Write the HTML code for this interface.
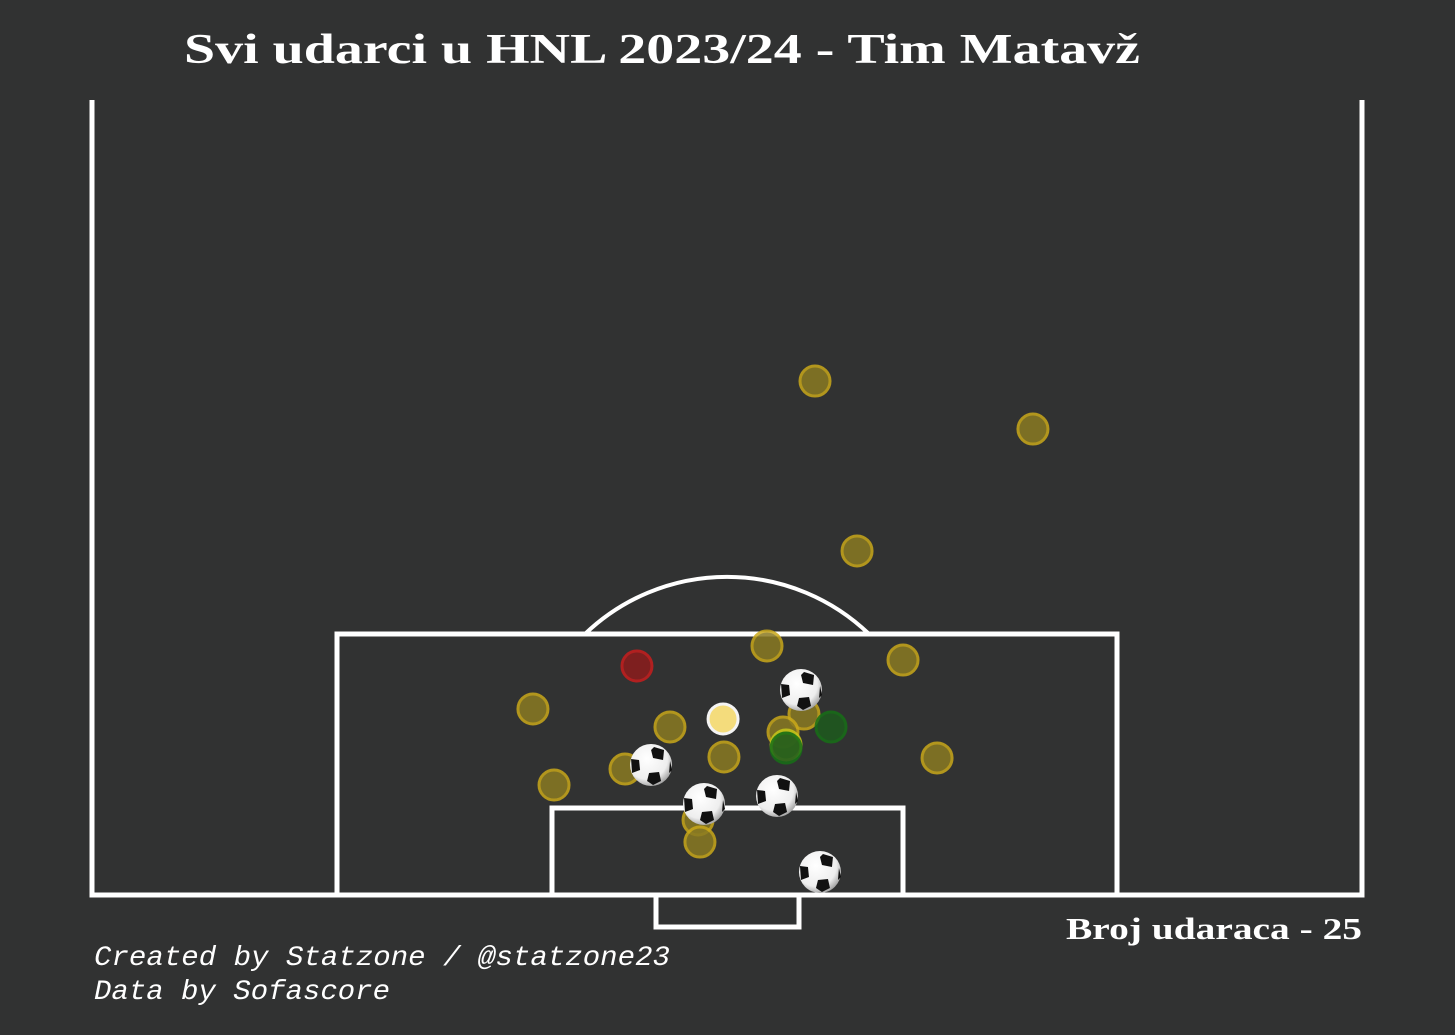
<!DOCTYPE html>
<html><head><meta charset="utf-8"><style>
body{margin:0;background:#313232;}
svg{display:block}
</style></head><body>
<svg width="1455" height="1035" viewBox="0 0 1455 1035">
<defs>
<radialGradient id="bg" cx="0.4" cy="0.35" r="0.7"><stop offset="0" stop-color="#fff"/><stop offset="0.7" stop-color="#eee"/><stop offset="1" stop-color="#999"/></radialGradient>
</defs>
<rect width="1455" height="1035" fill="#313232"/>
<text x="184" y="63" textLength="956" lengthAdjust="spacingAndGlyphs" font-family="Liberation Serif, serif" font-weight="bold" font-size="42" fill="#fff">Svi udarci u HNL 2023/24 - Tim Matavž</text>
<g fill="none" stroke="#fff" stroke-width="5">
<polyline points="92,100 92,895 1362,895 1362,100"/>
<rect x="337" y="634" width="780" height="261"/>
<rect x="552" y="808" width="351" height="87"/>
<rect x="656" y="895" width="143" height="32"/>
<path d="M585,634 A205,205 0 0 1 869,634" stroke-width="4"/>
</g>
<g id="shots"></g>
<text x="1066" y="939" textLength="296" lengthAdjust="spacingAndGlyphs" font-family="Liberation Serif, serif" font-weight="bold" font-size="31" fill="#fff">Broj udaraca - 25</text>
<text x="94" y="965" textLength="576" lengthAdjust="spacingAndGlyphs" font-family="Liberation Mono, monospace" font-style="italic" font-size="28" fill="#fff">Created by Statzone / @statzone23</text>
<text x="94" y="999" textLength="296" lengthAdjust="spacingAndGlyphs" font-family="Liberation Mono, monospace" font-style="italic" font-size="28" fill="#fff">Data by Sofascore</text>
</svg>
<script>
// pitch coords: x 0-100 across width, y = distance from goal line (scaled units)
const shotX=[56.93,74.09,60.24,53.15,63.86,34.72,45.51,49.69,56.06,54.41,54.65,49.76,66.54,41.97,36.38,47.72,47.87,42.91,58.19,54.65,55.83,44.02,48.19,53.94,57.32];
const shotY=[40.47,36.69,27.09,19.61,18.50,14.65,13.23,13.86,14.25,12.83,11.81,10.87,10.79,9.92,8.66,5.91,4.17,18.03,13.23,11.57,16.14,10.24,7.17,7.80,1.81];
const shotType=["miss","miss","miss","miss","miss","miss","miss","pale","miss","miss","lime","miss","miss","miss","miss","miss","miss","block","save","save","goal","goal","goal","goal","goal"];
const xs=v=>92+v*12.7, ys=v=>895-v*12.7;
const g=document.getElementById('shots');
const ns="http://www.w3.org/2000/svg";
const order=[...shotType.keys()].sort((a,b)=>(shotType[a]==="goal")-(shotType[b]==="goal"));
const sty={miss:["#8a7a22","#c9a81a"],pale:["#ffe680","#fff"],lime:["#8a9a10","#c8c81a"],block:["#8c1c1c","#c81e1e"],save:["#1e5a1e","#167016"]};
order.forEach(i=>{
 const cx=xs(shotX[i]),cy=ys(shotY[i]),t=shotType[i];
 if(t==="goal"){
  const b=document.createElementNS(ns,'g');
  
  
  b.innerHTML=`<circle cx="${cx}" cy="${cy}" r="21" fill="url(#bg)"/>
  <polygon points="${cx+3},${cy-18} ${cx+13},${cy-15} ${cx+12},${cy-5} ${cx+2},${cy-7} ${cx},${cy-15}" fill="#111"/>
  <polygon points="${cx-2},${cy+8} ${cx+8},${cy+7} ${cx+10},${cy+16} ${cx+2},${cy+20} ${cx-4},${cy+16}" fill="#111"/>
  <polygon points="${cx-20},${cy-6} ${cx-12},${cy-5} ${cx-11},${cy+5} ${cx-19},${cy+8}" fill="#111"/>
  <polygon points="${cx+19},${cy-4} ${cx+21},${cy+5} ${cx+18},${cy+8}" fill="#111"/>`;
  g.appendChild(b);
 } else {
  const c=document.createElementNS(ns,'circle');
  
  
  c.setAttribute('cx',cx);c.setAttribute('cy',cy);c.setAttribute('r',15);
  c.setAttribute('fill',sty[t][0]);c.setAttribute('stroke',sty[t][1]);c.setAttribute('stroke-width',3);
  c.setAttribute('opacity',t==="pale"?0.95:0.85);
  g.appendChild(c);
 }
});
</script>
</body></html>
